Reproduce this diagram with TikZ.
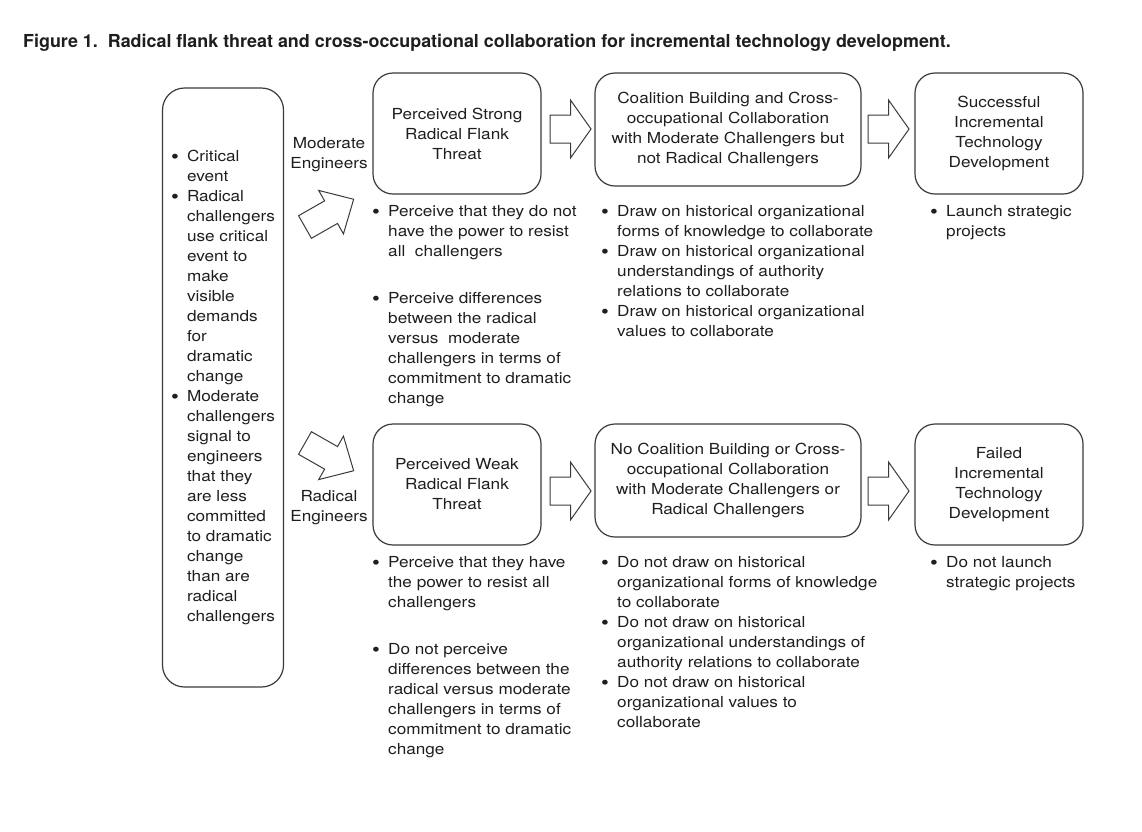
\documentclass[tikz,border=0pt]{standalone}
\usepackage{fontspec}
\setmainfont{TeX Gyre Heros}[FakeStretch=1.13]
\newfontfamily\titlefont{TeX Gyre Heros}
\usepackage{array}
\usepackage{graphicx}
\definecolor{linegray}{HTML}{3A3A3A}
\definecolor{inkblack}{HTML}{1E1E1E}
\newcommand{\bodysize}{\fontsize{15.2}{20}\selectfont}
\newcommand{\dotmark}{\raisebox{-1.6pt}{\scalebox{1.3}{\textbullet}}}
\newcommand{\bullist}[1]{\begin{tabular}[t]{@{}p{16pt}@{}l@{}}#1\end{tabular}}
\tikzset{
    every node/.style={text=inkblack,font=\bodysize},
    stage/.style={draw=linegray,line width=1.2pt,rounded corners=20pt,align=center,inner sep=0pt,
        minimum width=168pt,minimum height=121pt},
    widestage/.style={stage,minimum width=266pt,minimum height=113pt},
    eventbox/.style={draw=linegray,line width=1.2pt,rounded corners=22pt,inner sep=0pt,
        minimum width=121pt,minimum height=599pt},
    listtext/.style={anchor=base west,inner sep=0pt},
    grouptext/.style={align=center,inner sep=0pt},
    arrowline/.style={draw=linegray,line width=1pt,fill=white},
    fatarrow/.pic={\draw[arrowline] (-20.5,-14) -- (0,-14) -- (0,-29) -- (20.5,0) -- (0,29) -- (0,14) -- (-20.5,14) -- cycle;},
    slantarrow/.pic={\draw[arrowline] (0,-13) -- (30,-13) -- (30,-25) -- (56,0) -- (30,25) -- (30,13) -- (0,13) -- cycle;},
    }

\begin{document}
\begin{tikzpicture}[x=1pt,y=-1pt]
    \useasboundingbox (0,0) rectangle (1142,831);

    \node[anchor=base west,inner sep=0pt,font=\titlefont\bfseries\fontsize{17.9}{20}\selectfont] (title) at (23,47.7)
        {Figure 1.\ \ Radical flank threat and cross-occupational collaboration for incremental technology development.};

    % starting conditions
    \node[eventbox] (events) at (223,387.5) {\bullist{%
        \dotmark & Critical\\
        & event\\
        \dotmark & Radical\\
        & challengers\\
        & use critical\\
        & event to\\
        & make\\
        & visible\\
        & demands\\
        & for\\
        & dramatic\\
        & change\\
        \dotmark & Moderate\\
        & challengers\\
        & signal to\\
        & engineers\\
        & that they\\
        & are less\\
        & committed\\
        & to dramatic\\
        & change\\
        & than are\\
        & radical\\
        & challengers}};

    \node[grouptext] (moderate) at (329,155) {Moderate\\Engineers};
    \node[grouptext] (radical) at (329,508) {Radical\\Engineers};

    % upper path
    \node[stage] (strong) at (457,133.5) {Perceived Strong\\Radical Flank\\Threat};
    \node[widestage] (coalition) at (728,129.5) {Coalition Building and Cross-\\occupational Collaboration\\with Moderate Challengers but\\not Radical Challengers};
    \node[stage] (success) at (999,133.5) {Successful\\Incremental\\Technology\\Development};

    % lower path
    \node[stage] (weak) at (457,484.5) {Perceived Weak\\Radical Flank\\Threat};
    \node[widestage] (nocoalition) at (728,480.5) {No Coalition Building or Cross-\\occupational Collaboration\\with Moderate Challengers or\\Radical Challengers};
    \node[stage] (failed) at (999,484.5) {Failed\\Incremental\\Technology\\Development};

    \pic[rotate=29.7] at (305,227) {slantarrow};
    \pic[rotate=-29.7] at (305,443) {slantarrow};
    \pic at (570.5,129) {fatarrow};
    \pic at (888.5,129) {fatarrow};
    \pic at (570.5,491) {fatarrow};
    \pic at (888.5,491) {fatarrow};

    % upper lists
    \node[listtext] (strongnotes) at (372,216.7) {\bullist{%
        \dotmark & Perceive that they do not\\
        & have the power to resist\\
        & all\ \ challengers\\[26.7pt]
        \dotmark & Perceive differences\\
        & between the radical\\
        & versus\ \ moderate\\
        & challengers in terms of\\
        & commitment to dramatic\\
        & change}};
    \node[listtext] (coalitionnotes) at (601,216.7) {\bullist{%
        \dotmark & Draw on historical organizational\\
        & forms of knowledge to collaborate\\
        \dotmark & Draw on historical organizational\\
        & understandings of authority\\
        & relations to collaborate\\
        \dotmark & Draw on historical organizational\\
        & values to collaborate}};
    \node[listtext] (successnotes) at (930,216.7) {\bullist{%
        \dotmark & Launch strategic\\
        & projects}};

    % lower lists
    \node[listtext] (weaknotes) at (372,567.7) {\bullist{%
        \dotmark & Perceive that they have\\
        & the power to resist all\\
        & challengers\\[26.7pt]
        \dotmark & Do not perceive\\
        & differences between the\\
        & radical versus moderate\\
        & challengers in terms of\\
        & commitment to dramatic\\
        & change}};
    \node[listtext] (nocoalitionnotes) at (601,567.7) {\bullist{%
        \dotmark & Do not draw on historical\\
        & organizational forms of knowledge\\
        & to collaborate\\
        \dotmark & Do not draw on historical\\
        & organizational understandings of\\
        & authority relations to collaborate\\
        \dotmark & Do not draw on historical\\
        & organizational values to\\
        & collaborate}};
    \node[listtext] (failednotes) at (930,567.7) {\bullist{%
        \dotmark & Do not launch\\
        & strategic projects}};
\end{tikzpicture}
\end{document}
